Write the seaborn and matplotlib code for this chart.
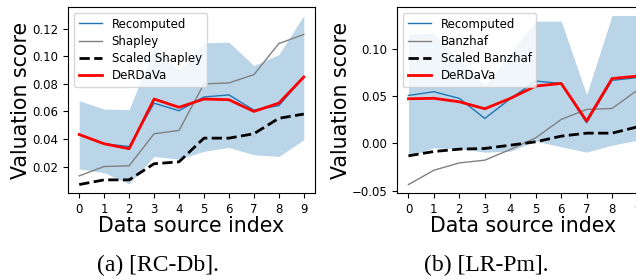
import numpy as np
import pandas as pd
import seaborn as sns
from matplotlib import pyplot as plt

plt.rcParams['font.family'] = 'DejaVu Sans'

idx = list(range(10))

# (a) [RC-Db]
recomputed_a = [0.0435, 0.0365, 0.0345, 0.066, 0.0605, 0.0705, 0.072, 0.061, 0.0642, 0.085]
shapley_a = [0.0132, 0.020, 0.0205, 0.0438, 0.0462, 0.080, 0.0807, 0.0867, 0.1093, 0.1159]
scaled_shapley_a = [0.0069, 0.0103, 0.0103, 0.022, 0.0234, 0.0406, 0.0406, 0.0438, 0.055, 0.0581]
derdava_a = [0.0432, 0.0365, 0.0329, 0.069, 0.063, 0.069, 0.0685, 0.060, 0.066, 0.085]
upper_a = [0.0678, 0.0617, 0.0613, 0.1064, 0.09, 0.1098, 0.1103, 0.0933, 0.1013, 0.1297]
lower_a = [0.0183, 0.0155, 0.0074, 0.0273, 0.0253, 0.031, 0.0338, 0.0285, 0.0273, 0.0394]

# (b) [LR-Pm]
recomputed_b = [0.051, 0.055, 0.0479, 0.0266, 0.0475, 0.0663, 0.0638, 0.022, 0.067, 0.070]
banzhaf_b = [-0.0436, -0.0284, -0.0206, -0.0177, -0.0064, 0.006, 0.0255, 0.0362, 0.0372, 0.0567]
scaled_banzhaf_b = [-0.0131, -0.0085, -0.006, -0.0053, -0.0018, 0.0018, 0.0078, 0.011, 0.011, 0.0177]
derdava_b = [0.0475, 0.048, 0.0443, 0.0369, 0.0479, 0.061, 0.0638, 0.0238, 0.069, 0.0716]
upper_b = [0.116, 0.117, 0.0895, 0.0617, 0.096, 0.130, 0.130, 0.052, 0.136, 0.136]
lower_b = [-0.0135, -0.0046, -0.0057, -0.0092, -0.0082, 0.0025, -0.0035, -0.0092, -0.0018, 0.0035]

panels = [
    dict(rec=recomputed_a, base=shapley_a, scaled=scaled_shapley_a, der=derdava_a,
         up=upper_a, lo=lower_a, name='Shapley', caption='(a) [RC-Db].'),
    dict(rec=recomputed_b, base=banzhaf_b, scaled=scaled_banzhaf_b, der=derdava_b,
         up=upper_b, lo=lower_b, name='Banzhaf', caption='(b) [LR-Pm].'),
]

fig = plt.figure(figsize=(6.36, 2.80), dpi=100)
axes = [fig.add_axes([0.1069, 0.3107, 0.3884, 0.6643]),
        fig.add_axes([0.6242, 0.3107, 0.3962, 0.6643])]
caption_x = [158 / 636, 486 / 636]

for ax, p, cx in zip(axes, panels, caption_x):
    ax.fill_between(idx, p['lo'], p['up'], color='#1f77b4', alpha=0.3, linewidth=0)
    sns.lineplot(ax=ax, x=idx, y=p['rec'], color='#1f77b4', linewidth=1, label='Recomputed')
    sns.lineplot(ax=ax, x=idx, y=p['base'], color='grey', linewidth=1, label=p['name'])
    sns.lineplot(ax=ax, x=idx, y=p['scaled'], color='black', linewidth=2,
                 linestyle='--', label='Scaled ' + p['name'])
    sns.lineplot(ax=ax, x=idx, y=p['der'], color='red', linewidth=2, label='DeRDaVa')
    ax.set_xticks(idx)
    ax.tick_params(axis='both', labelsize=8.5)
    ax.set_xlabel('Data source index', fontsize=14.8, labelpad=0)
    ax.set_ylabel('Valuation score', fontsize=14.8, labelpad=0.5)
    ax.legend(loc='upper left', fontsize=8.5, labelspacing=0.35)
    fig.text(cx, 1 - 265 / 280, p['caption'], ha='center', va='center',
             fontsize=17, family='Liberation Serif')

plt.savefig('out.png', dpi=100)
